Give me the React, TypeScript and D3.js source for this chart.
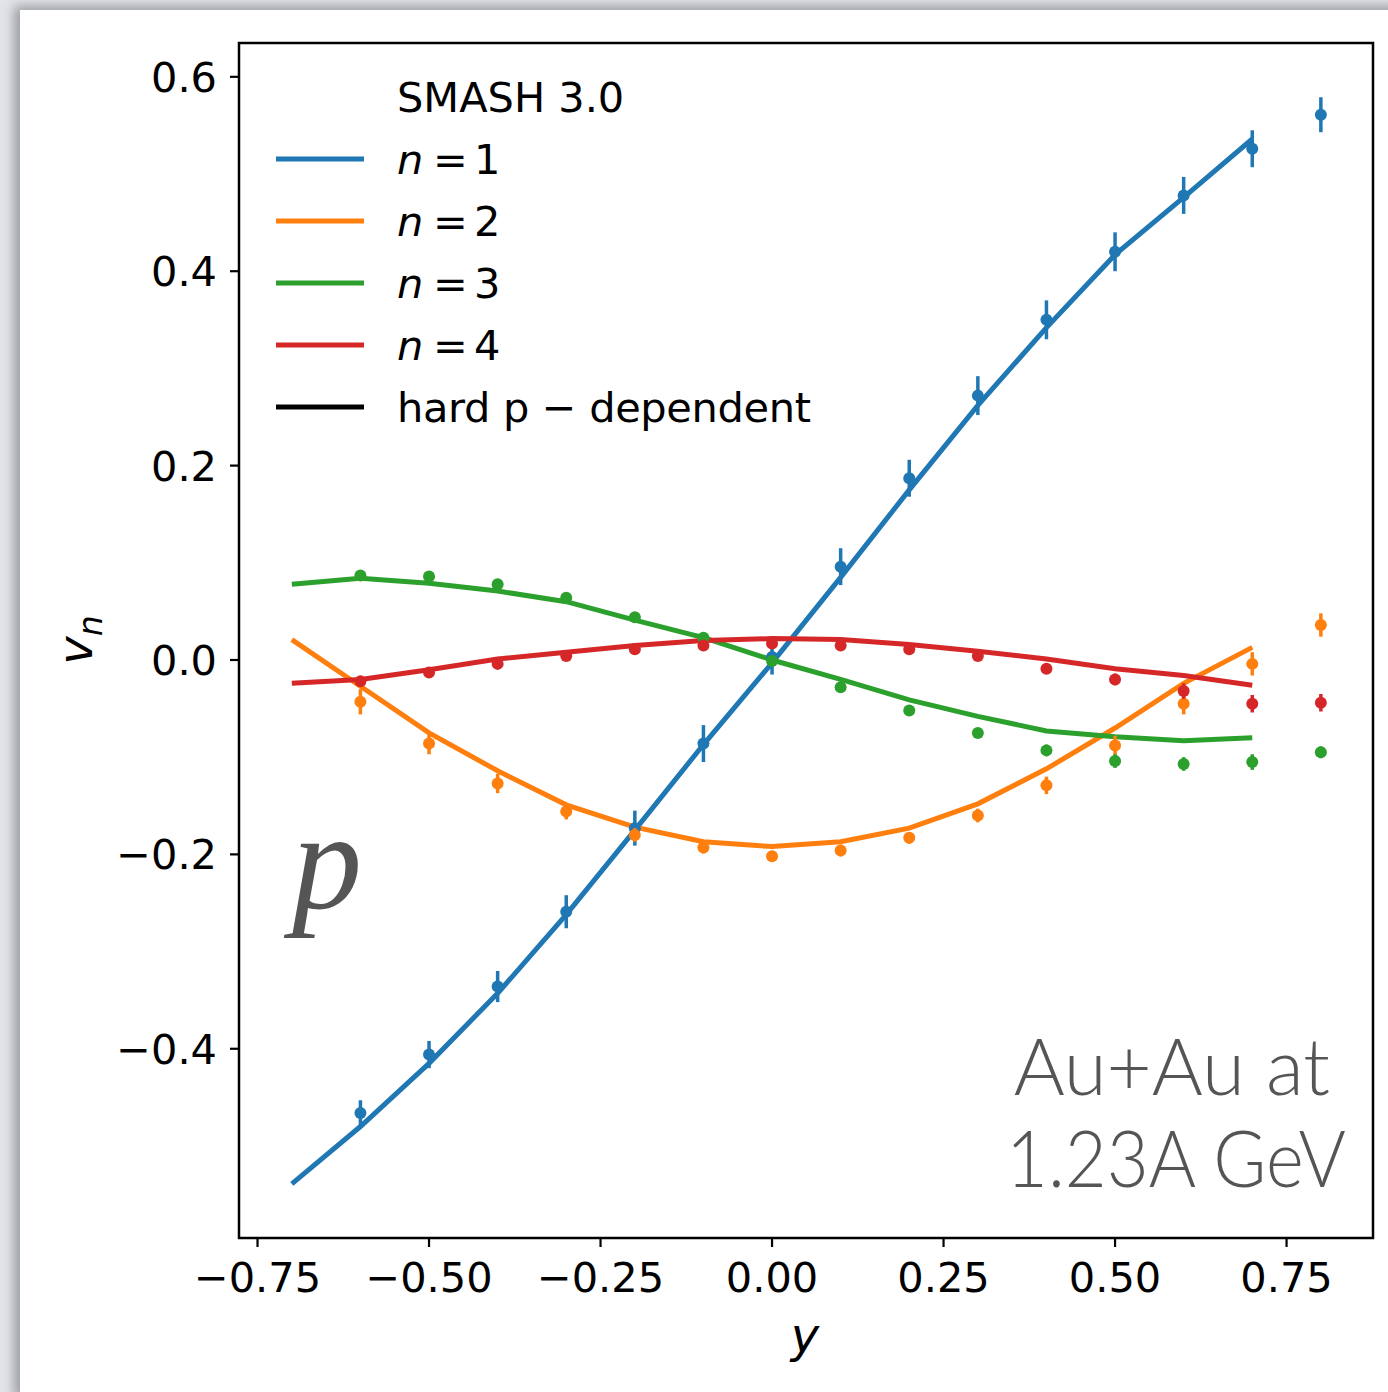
import React from "react";
import * as d3 from "d3";

// rapidity bins
const yPoints = [-0.6, -0.5, -0.4, -0.3, -0.2, -0.1, 0.0, 0.1, 0.2, 0.3, 0.4, 0.5, 0.6, 0.7, 0.8];
const yLine = [-0.7, -0.6, -0.5, -0.4, -0.3, -0.2, -0.1, 0.0, 0.1, 0.2, 0.3, 0.4, 0.5, 0.6, 0.7];

// SMASH points (with errors)
const v1Pts = [-0.466, -0.406, -0.336, -0.259, -0.173, -0.086, 0.003, 0.096, 0.187, 0.272, 0.35, 0.42, 0.478, 0.526, 0.561];
const v1Err = [0.013, 0.014, 0.016, 0.017, 0.018, 0.019, 0.018, 0.019, 0.019, 0.02, 0.02, 0.02, 0.019, 0.019, 0.018];
const v2Pts = [-0.043, -0.086, -0.127, -0.156, -0.18, -0.193, -0.202, -0.196, -0.183, -0.16, -0.129, -0.088, -0.045, -0.004, 0.036];
const v2Err = [0.013, 0.011, 0.01, 0.008, 0.007, 0.006, 0.005, 0.006, 0.006, 0.007, 0.009, 0.01, 0.011, 0.012, 0.012];
const v3Pts = [0.087, 0.086, 0.078, 0.064, 0.044, 0.023, -0.001, -0.028, -0.052, -0.075, -0.093, -0.104, -0.107, -0.105, -0.095];
const v3Err = [0.004, 0.004, 0.004, 0.004, 0.004, 0.004, 0.004, 0.004, 0.004, 0.005, 0.006, 0.007, 0.007, 0.008, 0.006];
const v4Pts = [-0.022, -0.013, -0.004, 0.004, 0.011, 0.015, 0.017, 0.015, 0.011, 0.004, -0.009, -0.02, -0.032, -0.045, -0.044];
const v4Err = [0.004, 0.004, 0.004, 0.004, 0.004, 0.004, 0.004, 0.004, 0.004, 0.004, 0.005, 0.006, 0.008, 0.009, 0.009];

// hard p-dependent curves
const v1Line = [-0.539, -0.48, -0.415, -0.343, -0.262, -0.175, -0.087, -0.003, 0.085, 0.175, 0.262, 0.342, 0.417, 0.476, 0.536];
const v2Line = [0.021, -0.027, -0.075, -0.114, -0.149, -0.172, -0.187, -0.192, -0.187, -0.173, -0.148, -0.112, -0.07, -0.024, 0.013];
const v3Line = [0.078, 0.084, 0.079, 0.071, 0.06, 0.041, 0.023, 0.0, -0.02, -0.041, -0.058, -0.073, -0.079, -0.083, -0.08];
const v4Line = [-0.024, -0.02, -0.01, 0.001, 0.008, 0.015, 0.02, 0.022, 0.021, 0.016, 0.009, 0.001, -0.009, -0.016, -0.026];

const xTicks = [-0.75, -0.5, -0.25, 0, 0.25, 0.5, 0.75];
const yTicks = [-0.4, -0.2, 0, 0.2, 0.4, 0.6];

const series = [
  { n: 1, color: "#1f77b4", pts: v1Pts, err: v1Err, line: v1Line },
  { n: 2, color: "#ff7f0e", pts: v2Pts, err: v2Err, line: v2Line },
  { n: 3, color: "#2ca02c", pts: v3Pts, err: v3Err, line: v3Line },
  { n: 4, color: "#d62728", pts: v4Pts, err: v4Err, line: v4Line },
];

const W = 1388;
const H = 1392;
const left = 239;
const right = 1373;
const top = 43;
const bottom = 1238;

const fmtMinus = (s: string) => s.replace("-", "\u2212");

export default function App() {
  const x = d3.scaleLinear().domain([-0.777, 0.876]).range([left, right]);
  const y = d3.scaleLinear().domain([-0.5947, 0.6348]).range([bottom, top]);
  const line = d3
    .line<number>()
    .x((_, i) => x(yLine[i]))
    .y((d) => y(d));

  const font = "'DejaVu Sans', sans-serif";
  const fs = 41.5;

  return (
    <svg
      width={W}
      height={H}
      style={{ position: "absolute", left: 0, top: 0 }}
      fontFamily={font}
    >
      <defs>
        <filter id="shadow" x="-5%" y="-5%" width="110%" height="110%">
          <feGaussianBlur stdDeviation="6" />
        </filter>
        <clipPath id="plot">
          <rect x={left} y={top} width={right - left} height={bottom - top} />
        </clipPath>
      </defs>
      <rect width={W} height={H} fill="#e2e5e8" />
      <rect x={14} y={6} width={W} height={H} fill="#9a9ca0" filter="url(#shadow)" />
      <rect x={20} y={10} width={W} height={H} fill="#fff" />

      {/* curves */}
      <g clipPath="url(#plot)">
        {series.map((s) => (
          <path key={"l" + s.n} d={line(s.line) ?? ""} fill="none" stroke={s.color} strokeWidth={5} />
        ))}
        {series.map((s) => (
          <g key={"p" + s.n} fill={s.color} stroke={s.color}>
            {s.pts.map((v, i) => (
              <g key={i}>
                <line
                  x1={x(yPoints[i])}
                  x2={x(yPoints[i])}
                  y1={y(v - s.err[i])}
                  y2={y(v + s.err[i])}
                  strokeWidth={3.5}
                />
                <circle cx={x(yPoints[i])} cy={y(v)} r={6} stroke="none" />
              </g>
            ))}
          </g>
        ))}
      </g>

      {/* spines */}
      <rect x={left} y={top} width={right - left} height={bottom - top} fill="none" stroke="#000" strokeWidth={2.5} />

      {/* x ticks */}
      {xTicks.map((t) => (
        <g key={"x" + t} transform={`translate(${x(t)},${bottom})`}>
          <line y1={0} y2={9} stroke="#000" strokeWidth={2.2} />
          <text y={54} textAnchor="middle" fontSize={fs}>
            {fmtMinus(d3.format(".2f")(t))}
          </text>
        </g>
      ))}
      {/* y ticks */}
      {yTicks.map((t) => (
        <g key={"y" + t} transform={`translate(${left},${y(t)})`}>
          <line x1={0} x2={-9} stroke="#000" strokeWidth={2.2} />
          <text x={-22} dy="0.36em" textAnchor="end" fontSize={fs}>
            {fmtMinus(d3.format(".1f")(t))}
          </text>
        </g>
      ))}

      {/* axis labels */}
      <text x={805} y={1352} textAnchor="middle" fontSize={48} fontStyle="italic">
        y
      </text>
      <text transform="translate(92,640) rotate(-90)" textAnchor="middle" fontSize={48} fontStyle="italic">
        v<tspan fontSize={33} dy={10}>n</tspan>
      </text>

      {/* legend */}
      <g fontSize={fs}>
        <text x={397} y={112}>SMASH 3.0</text>
        {series.map((s, i) => (
          <g key={"lg" + s.n} transform={`translate(0,${159 + i * 62})`}>
            <line x1={276} x2={364} stroke={s.color} strokeWidth={5} />
            <text x={397} dy="0.36em" fontStyle="italic">n</text>
            <text x={433} dy="0.36em">=</text>
            <text x={474} dy="0.36em">{s.n}</text>
          </g>
        ))}
        <g transform="translate(0,407)">
          <line x1={276} x2={364} stroke="#000" strokeWidth={5} />
          <text x={397} dy="0.36em" textLength={414} lengthAdjust="spacing">hard p − dependent</text>
        </g>
      </g>

      {/* annotations */}
      <text x={292} y={908} fontSize={140} fontStyle="italic" fontFamily="'Liberation Serif', 'DejaVu Serif', serif" fill="#555">
        p
      </text>
      <g fill="#555" fontFamily="Lato, 'Open Sans', sans-serif" fontWeight={300} fontSize={78} textAnchor="end">
        <text x={1330} y={1095}>Au+Au at</text>
        <text x={1346} y={1187} textLength={340} lengthAdjust="spacingAndGlyphs">1.23A GeV</text>
      </g>
    </svg>
  );
}
